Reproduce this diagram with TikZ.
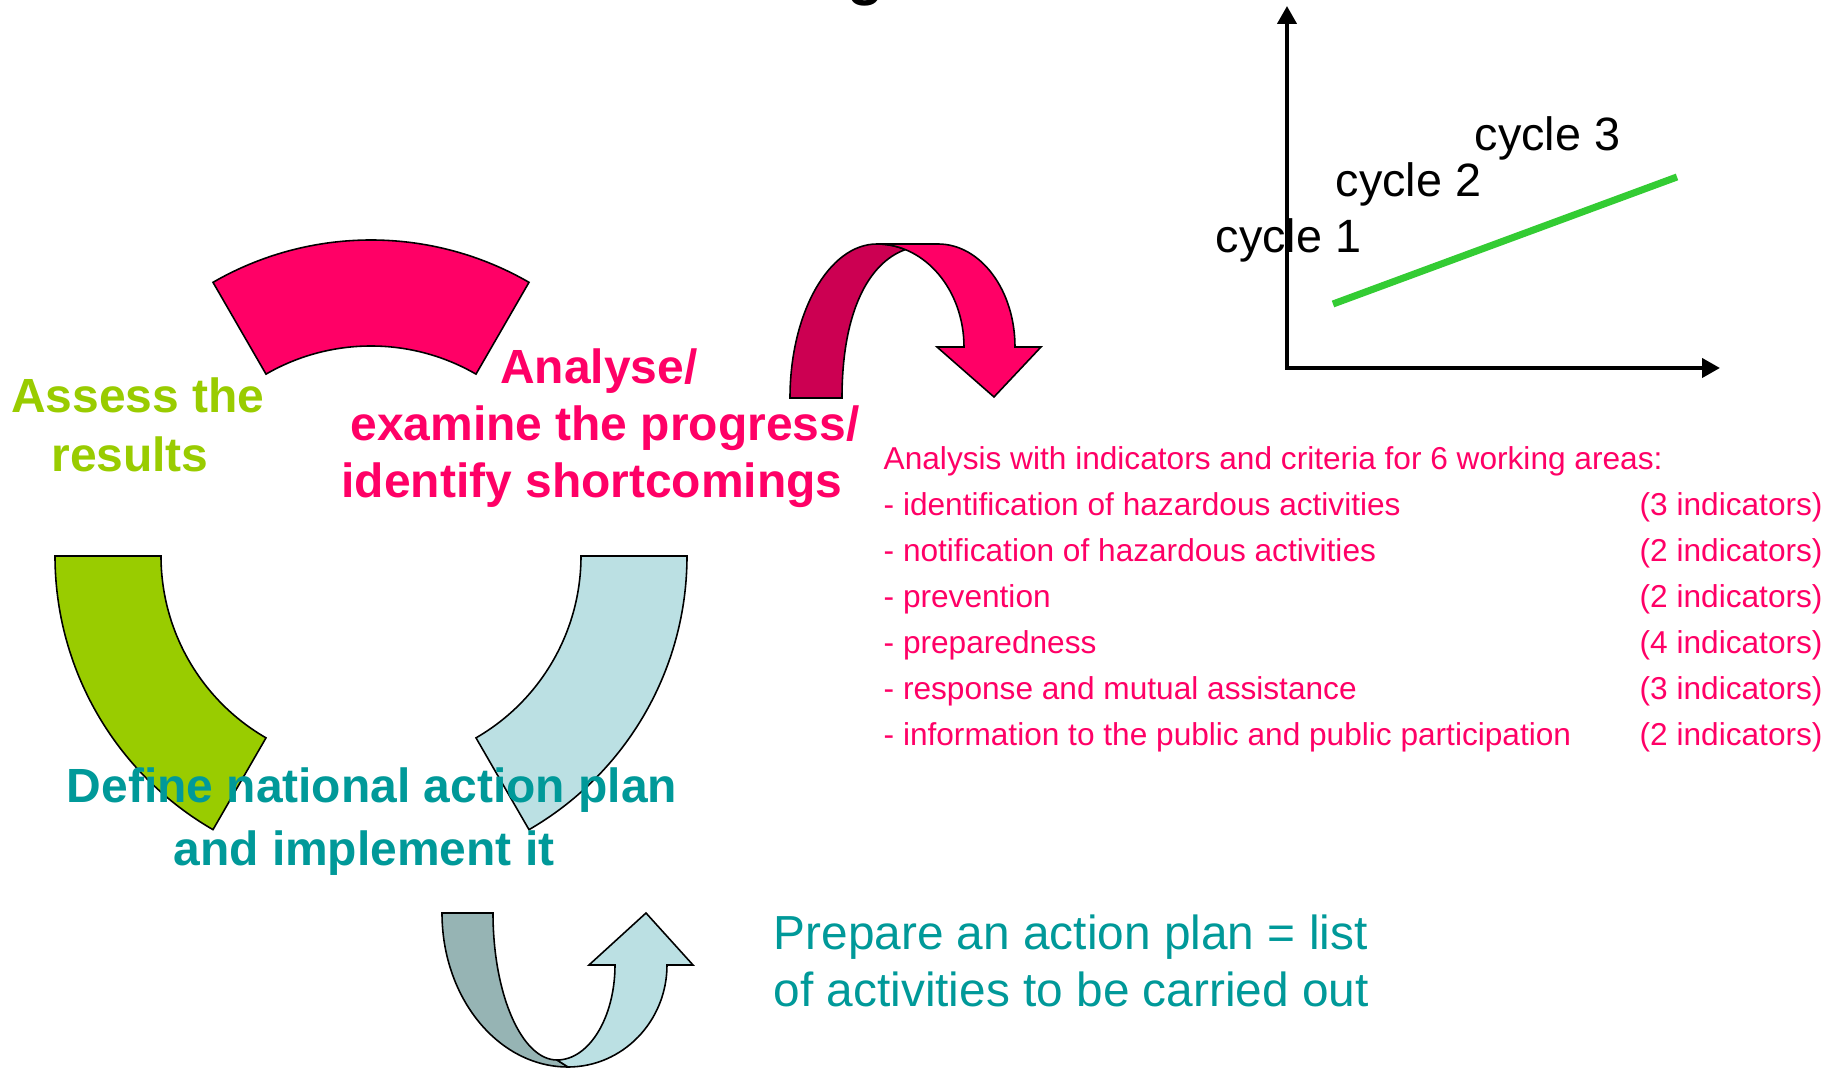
\documentclass[tikz,border=0pt]{standalone}
\usepackage{fontspec}
\setmainfont{Liberation Sans}
\usetikzlibrary{arrows.meta}
\definecolor{ecepink}{HTML}{FF0066}
\definecolor{ecedark}{HTML}{CC0052}
\definecolor{ecegreen}{HTML}{99CC00}
\definecolor{eceteal}{HTML}{009999}
\definecolor{ecesky}{HTML}{BBE0E3}
\definecolor{ecegrey}{HTML}{96B4B4}
\definecolor{ecelime}{HTML}{33CC33}

\begin{document}
\begin{tikzpicture}[
    band/.style={draw=black, line width=0.45pt},
    biglabel/.style={font=\fontsize{13.65}{16}\selectfont\bfseries, inner sep=0pt, anchor=base},
    plainlabel/.style={font=\fontsize{13.3}{16}\selectfont, inner sep=0pt, anchor=base west},
    listlabel/.style={font=\fontsize{9}{10.8}\selectfont, text=ecepink, inner sep=0pt, anchor=base west},
    axes/.style={line width=1.15pt, {Triangle[length=0.18cm, width=0.19cm]}-{Triangle[length=0.18cm, width=0.19cm]}}
  ]
  \fill[white] (0,0) rectangle (18.29,10.68);
  \useasboundingbox (0,0) rectangle (18.29,10.68);
  \def\Ri{2.10}
  \def\Ro{3.16}
  \coordinate (hub) at (3.71,5.12);

  % the three parts of the cycle
  \foreach \a/\col in {60/ecepink, 180/ecegreen, 300/ecesky}
    \filldraw[band, fill=\col, shift={(hub)}] (\a:\Ro) arc[start angle=\a, end angle=\a+60, radius=\Ro]
      -- ({\a+60}:\Ri) arc[start angle=\a+60, end angle=\a, radius=\Ri] -- cycle;

  % turn-over arrow
  \filldraw[band, fill=ecedark] (7.90,6.70) arc[start angle=180, end angle=90, x radius=0.87, y radius=1.54]
    arc[start angle=90, end angle=71, x radius=0.87, y radius=1.03]
    .. controls (8.68,8.05) and (8.42,7.55) .. (8.42,6.70) -- cycle;
  \filldraw[band, fill=ecepink] (8.77,8.24) -- (9.38,8.24)
    arc[start angle=90, end angle=0, x radius=0.77, y radius=1.03]
    -- (10.41,7.21) -- (9.94,6.71) -- (9.37,7.21) -- (9.64,7.21)
    arc[start angle=0, end angle=90, x radius=0.87, y radius=1.03] -- cycle;

  % u-turn arrow at the bottom
  \filldraw[band, fill=ecegrey] (4.42,1.55) arc[start angle=180, end angle=270, x radius=1.26, y radius=1.54]
    -- (5.57,0.08) arc[start angle=270, end angle=180, x radius=0.64, y radius=1.47] -- cycle;
  \filldraw[band, fill=ecesky] (5.57,0.08) arc[start angle=270, end angle=360, x radius=0.58, y radius=0.95]
    -- (5.89,1.03) -- (6.46,1.55) -- (6.93,1.03) -- (6.67,1.03)
    arc[start angle=0, end angle=-90, x radius=0.99, y radius=1.02] -- cycle;

  \node[font=\fontsize{17}{20}\selectfont\bfseries, inner sep=0pt, anchor=base] (title) at (8.66,10.74) {g};

  \node[biglabel, text=ecegreen] (assess-1) at (1.38,6.55) {Assess the};
  \node[biglabel, text=ecegreen] (assess-2) at (1.30,5.96) {results};

  \node[biglabel, text=ecepink] (analyse-1) at (5.99,6.84) {Analyse/};
  \node[biglabel, text=ecepink] (analyse-2) at (6.05,6.27) {examine the progress/};
  \node[biglabel, text=ecepink] (analyse-3) at (5.92,5.70) {identify shortcomings};

  \node[biglabel, text=eceteal] (define-1) at (3.72,2.65) {Define national action plan};
  \node[biglabel, text=eceteal] (define-2) at (3.64,2.02) {and implement it};

  \node[plainlabel, text=eceteal, font=\fontsize{13.6}{16}\selectfont] (prepare-1) at (7.73,1.18) {Prepare an action plan = list};
  \node[plainlabel, text=eceteal, font=\fontsize{13.6}{16}\selectfont] (prepare-2) at (7.73,0.61) {of activities to be carried out};

  % working areas and their indicators
  \node[listlabel] (areas) at (8.83,5.98) {Analysis with indicators and criteria for 6 working areas:};
  \foreach \area/\num [count=\i] in {identification of hazardous activities/3,
      notification of hazardous activities/2, prevention/2, preparedness/4,
      response and mutual assistance/3, information to the public and public participation/2} {
    \node[listlabel] (area-\i) at (8.83,{5.98-0.46*\i}) {- \area};
    \node[listlabel] (count-\i) at (16.39,{5.98-0.46*\i}) {(\num\ indicators)};
  }

  % progress over the cycles
  \coordinate (y-tip) at (12.87,10.62);
  \coordinate (x-tip) at (17.20,7.00);
  \draw[axes] (y-tip) |- (x-tip);
  \coordinate (trend-start) at (13.33,7.64);
  \coordinate (trend-end) at (16.77,8.91);
  \draw[ecelime, line width=2pt] (trend-start) -- (trend-end);
  \foreach \n/\x/\y in {1/12.15/8.15, 2/13.35/8.71, 3/14.74/9.17}
    \node[plainlabel] (cycle-\n) at (\x,\y) {cycle \n};
\end{tikzpicture}
\end{document}
